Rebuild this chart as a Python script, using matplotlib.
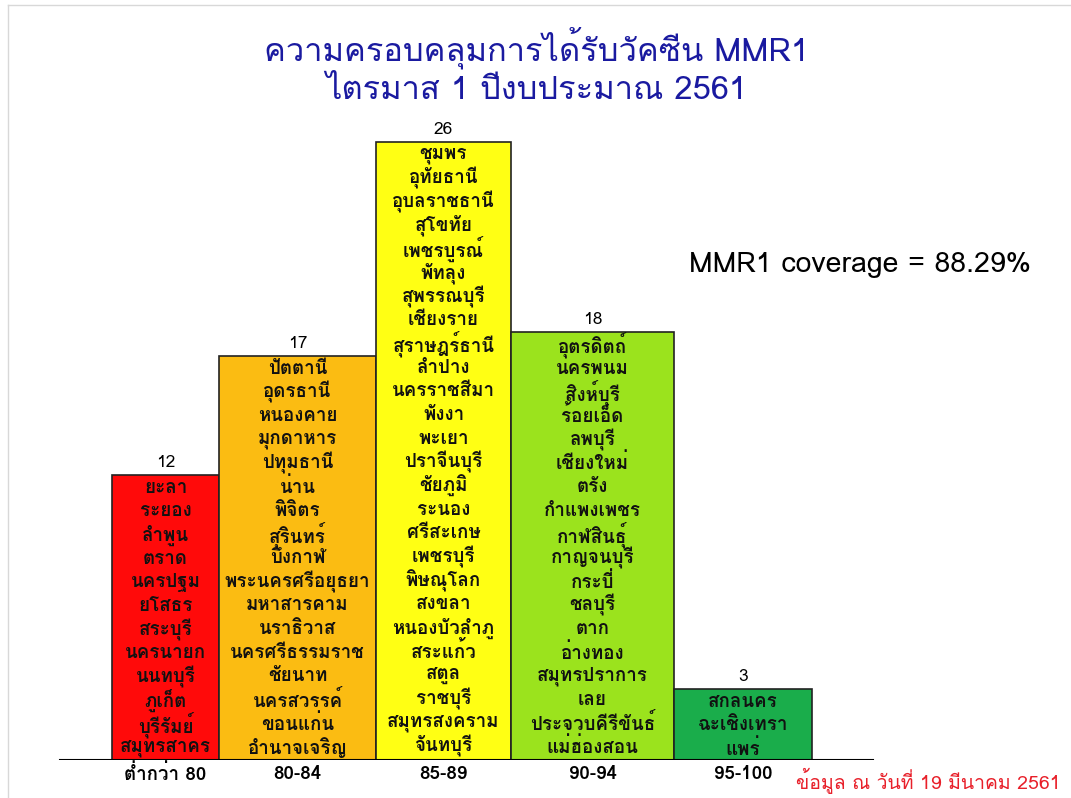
import matplotlib
matplotlib.use("Agg")
import matplotlib.pyplot as plt
from matplotlib import font_manager
from matplotlib.ft2font import FT2Font

# data
ranges = ["ต่ำกว่า 80", "80-84", "85-89", "90-94", "95-100"]
counts = [12, 17, 26, 18, 3]
prov_lt80 = ["ยะลา", "ระยอง", "ลำพูน", "ตราด", "นครปฐม", "ยโสธร", "สระบุรี",
             "นครนายก", "นนทบุรี", "ภูเก็ต", "บุรีรัมย์", "สมุทรสาคร"]
prov_80_84 = ["ปัตตานี", "อุดรธานี", "หนองคาย", "มุกดาหาร", "ปทุมธานี", "น่าน",
              "พิจิตร", "สุรินทร์", "บึงกาฬ", "พระนครศรีอยุธยา", "มหาสารคาม",
              "นราธิวาส", "นครศรีธรรมราช", "ชัยนาท", "นครสวรรค์", "ขอนแก่น",
              "อำนาจเจริญ"]
prov_85_89 = ["ชุมพร", "อุทัยธานี", "อุบลราชธานี", "สุโขทัย", "เพชรบูรณ์", "พัทลุง",
              "สุพรรณบุรี", "เชียงราย", "สุราษฎร์ธานี", "ลำปาง", "นครราชสีมา",
              "พังงา", "พะเยา", "ปราจีนบุรี", "ชัยภูมิ", "ระนอง", "ศรีสะเกษ",
              "เพชรบุรี", "พิษณุโลก", "สงขลา", "หนองบัวลำภู", "สระแก้ว", "สตูล",
              "ราชบุรี", "สมุทรสงคราม", "จันทบุรี"]
prov_90_94 = ["อุตรดิตถ์", "นครพนม", "สิงห์บุรี", "ร้อยเอ็ด", "ลพบุรี", "เชียงใหม่",
              "ตรัง", "กำแพงเพชร", "กาฬสินธุ์", "กาญจนบุรี", "กระบี่", "ชลบุรี",
              "ตาก", "อ่างทอง", "สมุทรปราการ", "เลย", "ประจวบคีรีขันธ์", "แม่ฮ่องสอน"]
prov_95_100 = ["สกลนคร", "ฉะเชิงเทรา", "แพร่"]
provinces = [prov_lt80, prov_80_84, prov_85_89, prov_90_94, prov_95_100]
coverage = 88.29

# layout (pixel-like x units)
lefts = [112, 219, 376, 511, 674]
widths = [107, 157, 135, 163, 138]
colors = ["#FF0A0A", "#FBBC12", "#FFFF14", "#9BE31D", "#1AAD4B"]


def thai_font():
    seen = set()
    for f in font_manager.fontManager.ttflist:
        if f.name in seen:
            continue
        seen.add(f.name)
        try:
            if FT2Font(f.fname).get_char_index(ord("ก")):
                return f.name
        except Exception:
            pass
    return "DejaVu Sans"


TH = thai_font()
fam = [TH, "DejaVu Sans"]

fig = plt.figure(figsize=(10.71, 7.98), dpi=100)
fig.patch.set_facecolor("white")
ax = fig.add_axes([0, 38 / 798, 1, 666 / 798])
ax.set_xlim(0, 1071)
ax.set_ylim(0, 28)
ax.axis("off")

ax.bar(lefts, counts, width=widths, align="edge", color=colors,
       edgecolor="#222222", linewidth=1.2, zorder=2)
ax.plot([60, 873], [0, 0], color="black", lw=1.5, zorder=3)

for x, w, n, names, lab in zip(lefts, widths, counts, provinces, ranges):
    cx = x + w / 2
    ax.text(cx, n + 0.15, str(n), ha="center", va="bottom", fontsize=12.5,
            family=fam, color="black")
    for i, name in enumerate(names):
        ax.text(cx, n - 0.55 - i * 0.995, name, ha="center", va="center",
                fontsize=13.5, weight="bold", family=fam, color="#111111", zorder=4)
    ax.text(cx, -0.6, lab, ha="center", va="center", fontsize=13.5,
            weight="bold", family=fam, color="black")

fig.text(536 / 1071, 1 - 48 / 798, "ความครอบคลุมการได้รับวัคซีน MMR1",
         ha="center", va="center", fontsize=23.5, color="#1A1AA0", family=fam)
fig.text(536 / 1071, 1 - 91 / 798, "ไตรมาส 1 ปีงบประมาณ 2561",
         ha="center", va="center", fontsize=23.5, color="#1A1AA0", family=fam)
fig.text(860 / 1071, 1 - 265 / 798, f"MMR1 coverage = {coverage}%",
         ha="center", va="center", fontsize=20.5, color="black", family=fam)
fig.text(1060 / 1071, 1 - 789 / 798, "ข้อมูล ณ วันที่ 19 มีนาคม 2561",
         ha="right", va="baseline", fontsize=14, color="#E8202A", family=fam)

# slide frame
fig.add_artist(plt.Line2D([8 / 1071, 8 / 1071], [0, 1 - 5 / 798],
                          color="#d8d8d8", lw=1, transform=fig.transFigure))
fig.add_artist(plt.Line2D([8 / 1071, 1], [1 - 5 / 798, 1 - 5 / 798],
                          color="#d8d8d8", lw=1, transform=fig.transFigure))

fig.savefig("out.png", dpi=100)
